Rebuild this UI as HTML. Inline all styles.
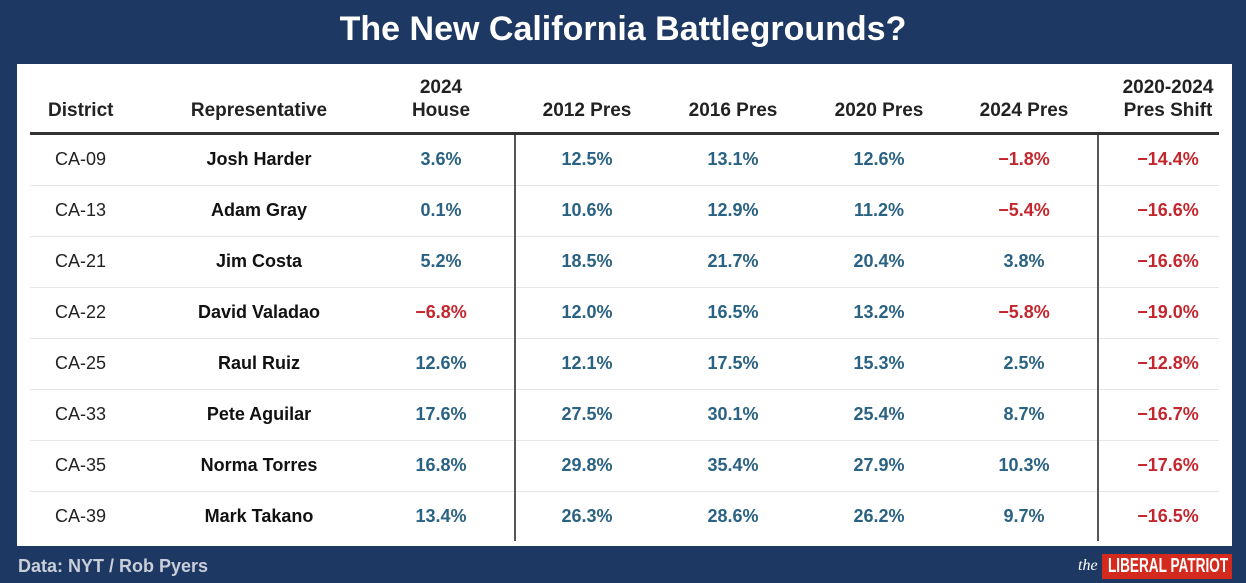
<!DOCTYPE html>
<html><head><meta charset="utf-8"><style>
body{margin:0;width:1246px;height:583px;background:#1d3862;font-family:"Liberation Sans",sans-serif;position:relative;overflow:hidden}
.t{position:absolute;white-space:nowrap}
#title{left:0;width:1246px;top:10px;text-align:center;color:#fff;font-size:34px;font-weight:bold}
#panel{position:absolute;left:17px;top:64px;width:1215px;height:482px;background:#fff}
.h{font-weight:bold;font-size:19px;color:#222;text-align:center;line-height:23px}
.c{font-size:18px;font-weight:bold;text-align:center;transform:translateX(-50%)}
</style></head><body>
<div id="title" class="t">The New California Battlegrounds?</div>
<div id="panel"></div>
<div class="t" style="left:18px;top:556px;color:#c9ced8;font-size:18px;font-weight:bold">Data: NYT / Rob Pyers</div>
<div class="t" style="left:1078px;top:557px;color:#fff;font-family:'Liberation Serif',serif;font-style:italic;font-size:16px">the</div>
<div class="t" style="left:1102px;top:554px;width:130px;height:25px;background:#d42a1e;overflow:hidden"><span style="display:inline-block;color:#fff;font-weight:bold;font-size:20px;line-height:25px;transform:scaleX(0.68);transform-origin:0 0;margin-left:6px">LIBERAL PATRIOT</span></div>
<script>
const districts=["CA-09","CA-13","CA-21","CA-22","CA-25","CA-33","CA-35","CA-39"];
const reps=["Josh Harder","Adam Gray","Jim Costa","David Valadao","Raul Ruiz","Pete Aguilar","Norma Torres","Mark Takano"];
const house2024=[3.6,0.1,5.2,-6.8,12.6,17.6,16.8,13.4];
const pres2012=[12.5,10.6,18.5,12.0,12.1,27.5,29.8,26.3];
const pres2016=[13.1,12.9,21.7,16.5,17.5,30.1,35.4,28.6];
const pres2020=[12.6,11.2,20.4,13.2,15.3,25.4,27.9,26.2];
const pres2024=[-1.8,-5.4,3.8,-5.8,2.5,8.7,10.3,9.7];
const shift=[-14.4,-16.6,-16.6,-19.0,-12.8,-16.7,-17.6,-16.5];
const headers=["District","Representative","2024<br>House","2012 Pres","2016 Pres","2020 Pres","2024 Pres","2020-2024<br>Pres Shift"];
const xs=[80,259,441,587,733,879,1024,1168];
const b=document.body;
function add(html,cls,style,name){const d=document.createElement('div');d.className='t '+cls;d.innerHTML=html;d.style.cssText=style;


b.appendChild(d);return d;}
headers.forEach((h,i)=>{const two=h.includes('<br>');
const d=add(h,'h',`left:${xs[i]-80}px;width:160px;top:${two?76:99}px`,'header-'+i);if(i==0){d.style.textAlign='left';d.style.left='48px';}});
function line(x,y,w,h,c,name){const d=add('','',`left:${x}px;top:${y}px;width:${w}px;height:${h}px;background:${c}`,name);}
line(30,132,1189,3,'#333','header-rule');
for(let r=0;r<8;r++){const y=160+r*51;
if(r<7)line(30,y+25,1189,1,'#e6e6e6','row-separator');
add(districts[r],'',`left:55px;top:${y-11}px;font-size:18px;color:#222`,'district-cell');
add(reps[r],'c',`left:${xs[1]}px;top:${y-11}px;color:#111`,'rep-cell');
const vals=[house2024,pres2012,pres2016,pres2020,pres2024,shift];
vals.forEach((arr,j)=>{const v=arr[r];
add((v<0?'\u2212'+Math.abs(v).toFixed(1):v.toFixed(1))+'%','c',`left:${xs[j+2]}px;top:${y-11}px;color:${v<0?'#c4262e':'#2a6283'}`,'value-cell');});}
line(514,135,2,406,'#555','divider-left');
line(1097,135,2,406,'#555','divider-right');
</script>
</body></html>
